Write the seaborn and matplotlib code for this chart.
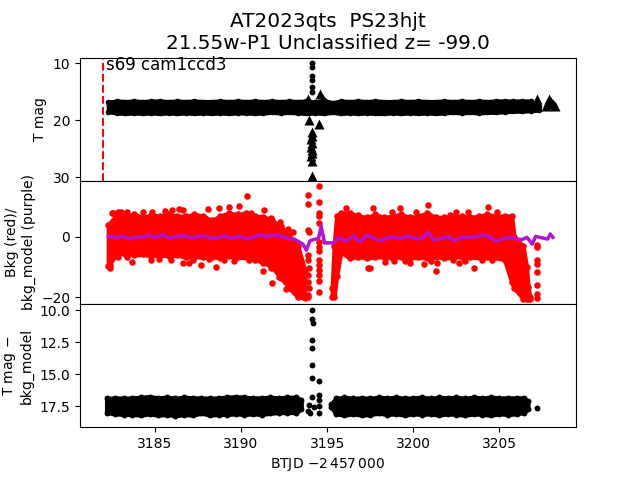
import matplotlib
matplotlib.use('Agg')
import matplotlib.pyplot as plt
import seaborn as sns

# Top panel: T mag
top_band_x = [3182.3, 3182.8, 3183.3, 3183.8, 3184.3, 3184.8, 3185.3, 3185.8, 3186.3, 3186.8,
              3187.3, 3187.8, 3188.3, 3188.8, 3189.3, 3189.8, 3190.3, 3190.8, 3191.3, 3191.8,
              3192.3, 3192.8, 3193.3, 3193.8, 3194.3, 3194.8, 3195.3, 3195.8, 3196.3, 3196.8,
              3197.3, 3197.8, 3198.3, 3198.8, 3199.3, 3199.8, 3200.3, 3200.8, 3201.3, 3201.8,
              3202.3, 3202.8, 3203.3, 3203.8, 3204.3, 3204.8, 3205.3, 3205.8, 3206.3, 3206.8, 3207.3]
top_band_hi = [16.8, 16.6, 16.7, 16.6, 16.7, 16.6, 16.6, 16.7, 16.6, 16.7,
               16.6, 16.7, 16.7, 16.6, 16.7, 16.6, 16.7, 16.6, 16.7, 16.6,
               16.7, 16.6, 16.7, 16.6, 16.8, 16.5, 16.9, 16.6, 16.7, 16.6,
               16.7, 16.6, 16.7, 16.7, 16.6, 16.7, 16.6, 16.7, 16.7, 16.6,
               16.7, 16.6, 16.7, 16.6, 16.7, 16.6, 16.6, 16.6, 16.6, 16.6, 17.4]
top_band_lo = [18.5, 18.7, 18.8, 18.7, 18.8, 18.7, 18.8, 18.7, 18.8, 18.7,
               18.8, 18.7, 18.8, 18.7, 18.8, 18.7, 18.7, 18.8, 18.7, 18.6,
               18.7, 18.6, 18.7, 18.8, 18.7, 18.8, 18.6, 18.8, 18.7, 18.8,
               18.7, 18.8, 18.8, 18.7, 18.8, 18.7, 18.8, 18.7, 18.8, 18.7,
               18.6, 18.7, 18.6, 18.7, 18.6, 18.6, 18.5, 18.4, 18.4, 18.3, 18.2]
top_dot_x = [3194.1, 3194.1, 3194.15, 3194.15, 3194.1, 3194.15]
top_dot_y = [10.0, 10.7, 12.3, 12.9, 14.2, 15.1]
top_tri_x = [3193.87, 3194.58, 3194.75, 3195.0, 3193.97, 3194.53, 3194.1, 3194.15, 3194.05, 3194.15, 3194.05,
             3194.1, 3194.15, 3194.05, 3194.1, 3194.15, 3206.9, 3207.15, 3207.15,
             3207.7, 3207.8, 3207.9, 3208.0, 3208.1, 3208.2]
top_tri_y = [16.3, 15.4, 16.3, 17.2, 20.0, 20.7, 22.0, 22.8, 23.3, 24.0, 24.6,
             25.2, 25.8, 26.2, 27.2, 29.7, 16.9, 16.3, 17.4,
             17.4, 16.8, 16.3, 16.8, 17.2, 17.5]
flag_x = 3181.97

# Middle panel: background flux
bkg_a_x = [3182.3, 3182.8, 3183.3, 3183.8, 3184.3, 3184.8, 3185.3, 3185.8, 3186.3, 3186.8, 3187.3, 3187.8,
           3188.3, 3188.8, 3189.3, 3189.8, 3190.3, 3190.8, 3191.3, 3191.8, 3192.3, 3192.8, 3193.3, 3193.7]
bkg_a_hi = [4, 7.5, 7, 7.6, 6.5, 7.3, 7, 7.5, 7, 7, 7.5, 7,
            5.5, 7, 8, 7.5, 8, 7, 6.8, 5.5, 3.5, 0.5, -3, -11]
bkg_a_lo = [-9.5, -5.5, -5.5, -6, -5.8, -6.3, -6, -6.3, -6, -6.8, -6.5, -6.8,
            -6.5, -7, -6.3, -6.8, -6.8, -7.5, -8.5, -10, -13.5, -17, -20, -20.3]
bkg_b_x = [3195.29, 3195.4, 3195.55, 3195.8, 3196.3, 3196.8, 3197.3, 3197.8, 3198.3, 3198.8, 3199.3, 3199.8,
           3200.3, 3200.8, 3201.3, 3201.8, 3202.3, 3202.8, 3203.3, 3203.8, 3204.3, 3204.8, 3205.3, 3205.7,
           3205.85, 3206.37, 3206.57, 3206.66, 3206.76]
bkg_b_hi = [-17, -3, 7, 8, 8, 7, 6.5, 7.5, 6.5, 7, 7.5, 6.5,
            7, 8, 6.5, 6.5, 6.5, 7, 6.5, 7, 7.5, 7, 7, 7,
            0, -3, -10, -16.6, -20]
bkg_b_lo = [-20, -20, -13, -5, -7, -6.5, -7, -6.5, -6.8, -7, -6.5, -7,
            -6.8, -7, -6.5, -7, -6.8, -6.5, -6.8, -6.8, -6.5, -6.8, -7.7, -14.9,
            -17, -20.5, -20.6, -20.6, -20.6]
bkg_dot_x = [3190.33, 3189.86, 3189.32, 3188.7, 3188.06, 3186.66, 3186.41, 3185.97, 3185.6, 3184.86, 3183.05, 3182.6,
             3183.7, 3184.77, 3186.65, 3187.0, 3187.67, 3188.12, 3188.58, 3182.4, 3182.42,
             3182.53, 3182.88, 3183.4, 3184.34, 3182.88, 3183.37, 3185.25, 3185.93, 3187.2, 3189.0, 3189.6,
             3191.35, 3190.58, 3191.74, 3192.27, 3192.71, 3193.0, 3191.78, 3192.62, 3192.23, 3191.3, 3190.48, 3191.74,
             3196.1, 3196.78, 3197.36, 3197.65, 3198.76, 3199.24, 3200.17, 3200.85, 3202.1, 3202.5, 3203.2, 3204.34, 3204.86,
             3197.46, 3198.33, 3199.78, 3200.62, 3201.34, 3201.4, 3202.65, 3203.52, 3204.57,
             3198.9, 3199.5, 3201.0, 3202.3, 3203.0, 3204.0,
             3193.9, 3193.9, 3193.9, 3193.92, 3193.9, 3193.9, 3193.92, 3193.9, 3193.9, 3193.92, 3193.9, 3193.9,
             3194.55, 3194.55, 3194.55, 3194.55, 3194.55, 3194.55, 3194.55, 3194.55, 3194.55, 3194.55, 3194.55, 3194.55, 3194.55, 3194.55,
             3207.15, 3207.18, 3207.15, 3207.15, 3207.2, 3207.2, 3207.2, 3207.15]
bkg_dot_y = [13.7, 10.3, 9.9, 9.6, 9.2, 9.0, 9.2, 9.0, 8.7, 8.2, 8.3, 8.1,
             -8.4, -7.7, -8.8, -8.8, -9.3, -7.4, -10.1, -10.4, -9.4,
             7.9, 8.2, 8.2, 8.2, -6.8, -6.7, -7.4, -7.8, -7.6, -7.8, -8.0,
             9.0, 7.9, 6.2, 4.9, 2.6, 1.8, -15.4, -17.4, -13.4, -11.2, -7.7, -10.4,
             9.6, 7.3, -10.4, 9.6, 8.4, 9.6, 8.2, 10.7, 7.3, 8.4, 8.2, 9.9, 8.2,
             -10.4, -8.4, -8.8, -9.0, -11.2, -8.8, -8.8, -10.4, -7.7,
             -8.0, -7.9, -8.0, -7.8, -8.1, -7.6,
             14.0, 11.0, 2.3, 1.5, -6.0, -7.7, -10.4, -12.7, -14.9, -17.0, -19.3, -20.0,
             17.0, 11.6, 8.0, 7.0, 4.6, -1.6, -3.2, -4.6, -7.7, -9.3, -11.0, -12.7, -14.5, -18.2,
             -2.7, -3.2, -7.7, -9.0, -11.7, -16.0, -19.0, -20.3]
model_x = [3182.3, 3182.7, 3183.1, 3183.5, 3183.9, 3184.3, 3184.7, 3185.1, 3185.5, 3185.9, 3186.3, 3186.7, 3187.1,
           3187.5, 3187.9, 3188.3, 3188.7, 3189.1, 3189.5, 3189.9, 3190.3, 3190.7, 3191.1, 3191.5, 3191.9, 3192.3,
           3192.7, 3193.1, 3193.3, 3193.6, 3193.8, 3194.0, 3194.3, 3194.5, 3194.65, 3194.85, 3195.4, 3195.65, 3196.1,
           3196.5, 3196.9, 3197.3, 3197.7, 3198.1, 3198.5, 3198.9, 3199.3, 3199.7, 3200.1, 3200.5, 3200.85, 3201.2, 3201.6,
           3202.0, 3202.4, 3202.8, 3203.2, 3203.6, 3204.0, 3204.4, 3204.8, 3205.2, 3205.6, 3206.0, 3206.3, 3206.6, 3206.9,
           3207.1, 3207.8, 3207.95, 3208.1]
model_y = [0.3, -0.2, 0.2, -0.6, -0.1, 0.0, 0.5, 0.0, 0.7, -0.5, 0.2, 0.5, -0.3,
           0.2, 0.4, -0.6, -0.2, 0.3, -0.5, 0.3, -0.7, -0.2, 0.8, 0.2, 0.6, 0.3,
           -0.5, -0.7, -1.4, -2.4, -4.4, -1.3, -0.7, -0.6, 3.6, -2.0, -1.9, -0.2, -1.3,
           0.3, -1.6, 0.6, -0.5, -1.2, -0.3, -0.1, -0.6, 0.3, -0.5, -0.6, 1.6, -1.0, -0.6,
           0.1, -1.2, -0.1, -0.1, 0.0, 0.6, 0.2, -1.3, -0.7, -0.1, -0.6, -0.9, -0.1, -2.4,
           0.2, -0.7, 1.0, -0.1]

# Bottom panel: T mag minus bkg_model
sub_a_x = [3182.2, 3182.7, 3183.2, 3183.7, 3184.2, 3184.7, 3185.2, 3185.7, 3186.2, 3186.7, 3187.2, 3187.7,
           3188.2, 3188.7, 3189.2, 3189.7, 3190.2, 3190.7, 3191.2, 3191.7, 3192.2, 3192.7, 3193.2, 3193.5]
sub_a_hi = [16.9, 16.85, 16.88, 16.85, 16.8, 16.75, 16.85, 16.8, 16.88, 16.8, 16.85, 16.85,
            16.88, 16.85, 16.8, 16.75, 16.8, 16.85, 16.85, 16.8, 16.85, 16.8, 16.8, 17.0]
sub_a_lo = [18.0, 18.1, 18.15, 18.15, 18.2, 18.1, 18.2, 18.15, 18.25, 18.15, 18.2, 18.05,
            18.2, 18.15, 18.15, 18.1, 18.15, 18.1, 18.15, 18.05, 18.0, 18.0, 18.0, 17.7]
sub_b_x = [3195.25, 3195.5, 3196.0, 3196.5, 3197.0, 3197.5, 3198.0, 3198.5, 3199.0, 3199.5, 3200.0, 3200.5,
           3201.0, 3201.5, 3202.0, 3202.5, 3203.0, 3203.5, 3204.0, 3204.5, 3205.0, 3205.5, 3206.0, 3206.4, 3206.65]
sub_b_hi = [17.3, 16.9, 16.8, 16.88, 16.85, 16.88, 16.8, 16.85, 16.8, 16.88, 16.85, 16.8,
            16.88, 16.8, 16.85, 16.8, 16.88, 16.8, 16.85, 16.8, 16.85, 16.85, 16.85, 16.85, 17.1]
sub_b_lo = [17.6, 18.1, 18.2, 18.1, 18.2, 18.15, 18.05, 18.15, 18.1, 18.2, 18.1, 18.15,
            18.1, 18.2, 18.1, 18.15, 18.2, 18.1, 18.15, 18.2, 18.1, 18.15, 18.1, 18.0, 17.7]
sub_dot_x = [3194.1, 3194.1, 3194.2, 3194.15, 3194.15, 3194.1, 3194.15, 3194.55, 3194.15,
             3194.55, 3194.55, 3194.55, 3194.55, 3193.95, 3193.9, 3194.0, 3194.25, 3207.2]
sub_dot_y = [10.0, 10.7, 11.04, 12.3, 13.0, 14.27, 15.34, 15.5, 16.8,
             16.64, 17.0, 17.5, 18.05, 17.4, 17.9, 18.0, 17.55, 17.66]

xlim = (3180.66, 3209.44)
fig, axes = plt.subplots(3, 1, sharex=True)
plt.subplots_adjust(hspace=0)
ax1, ax2, ax3 = axes


def draw_band(ax, xs, hi, lo, color, size):
    # filled body with a thick outline, dots on the edges for the packed-points look
    ax.fill_between(xs, lo, hi, color=color, lw=3, joinstyle='round')
    sns.scatterplot(x=xs, y=hi, color=color, s=size, linewidth=0, ax=ax, legend=False)
    sns.scatterplot(x=xs, y=lo, color=color, s=size, linewidth=0, ax=ax, legend=False)


draw_band(ax1, top_band_x, top_band_hi, top_band_lo, 'k', 16)
sns.scatterplot(x=top_dot_x, y=top_dot_y, color='k', s=18, linewidth=0, ax=ax1, legend=False)
sns.scatterplot(x=top_tri_x, y=top_tri_y, color='k', marker='^', s=52, linewidth=0, ax=ax1, legend=False)
ax1.axvline(flag_x, color='r', ls='--', lw=1.5)
ax1.text(3182.15, 11.2, 's69 cam1ccd3', fontsize=12)
ax1.set_ylim(30.6, 9.0)
ax1.set_yticks([10, 20, 30])
ax1.set_ylabel('T mag')
ax1.tick_params(axis='x', bottom=False)
ax1.set_title('AT2023qts  PS23hjt\n21.55w-P1 Unclassified z= -99.0', fontsize=14.4)

draw_band(ax2, bkg_a_x, bkg_a_hi, bkg_a_lo, 'r', 22)
draw_band(ax2, bkg_b_x, bkg_b_hi, bkg_b_lo, 'r', 22)
sns.scatterplot(x=bkg_dot_x, y=bkg_dot_y, color='r', s=22, linewidth=0, ax=ax2, legend=False)
sns.lineplot(x=model_x, y=model_y, color='#b014d2', lw=2.5, sort=False, estimator=None, ax=ax2, legend=False)
ax2.set_ylim(-22.3, 18.7)
ax2.set_yticks([-20, 0])
ax2.set_ylabel('Bkg (red)/\nbkg_model (purple)')
ax2.tick_params(axis='x', bottom=False)

draw_band(ax3, sub_a_x, sub_a_hi, sub_a_lo, 'k', 18)
draw_band(ax3, sub_b_x, sub_b_hi, sub_b_lo, 'k', 18)
sns.scatterplot(x=sub_dot_x, y=sub_dot_y, color='k', s=18, linewidth=0, ax=ax3, legend=False)
ax3.set_ylim(19.14, 9.53)
ax3.set_yticks([10.0, 12.5, 15.0, 17.5])
ax3.set_ylabel('T mag $-$\nbkg_model')
ax3.set_xlim(xlim)
ax3.set_xticks([3185, 3190, 3195, 3200, 3205])
ax3.set_xlabel('BTJD $-2\\,457\\,000$')

plt.savefig('out.png', dpi=100)
plt.close()
